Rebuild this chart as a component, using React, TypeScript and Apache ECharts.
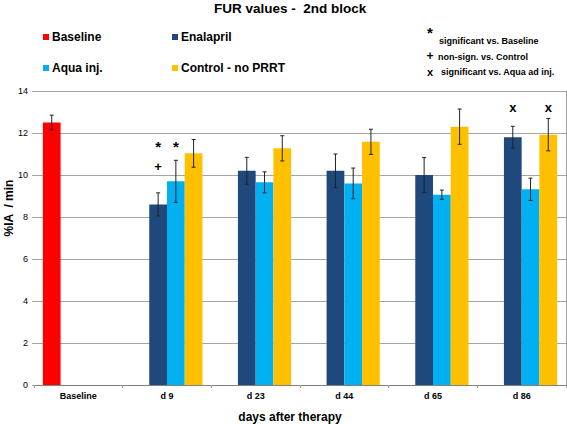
import React, { useEffect, useRef } from "react";
import * as echarts from "echarts";

const categories = ["Baseline", "d 9", "d 23", "d 44", "d 65", "d 86"];
const seriesNames = ["Baseline", "Enalapril", "Aqua inj.", "Control - no PRRT"];
const seriesColors = ["#FF0000", "#1F497D", "#00B0F0", "#FFC000"];

const baselineMean = [12.5, null, null, null, null, null];
const baselineErr = [0.35, null, null, null, null, null];
const enalaprilMean = [null, 8.6, 10.2, 10.2, 10.0, 11.8];
const enalaprilErr = [null, 0.55, 0.64, 0.8, 0.83, 0.52];
const aquaMean = [null, 9.7, 9.65, 9.6, 9.06, 9.32];
const aquaErr = [null, 1.0, 0.5, 0.73, 0.22, 0.53];
const controlMean = [null, 11.03, 11.27, 11.58, 12.3, 11.92];
const controlErr = [null, 0.66, 0.6, 0.6, 0.84, 0.77];

// significance markers: [categoryIndex, seriesSlot, yValue, symbol]
const markerCats = [1, 1, 1, 5, 5];
const markerSlots = [1, 2, 1, 1, 3];
const markerValues = [11.35, 11.35, 10.4, 13.2, 13.2];
const markerSymbols = ["*", "*", "+", "x", "x"];

const yTicks = { min: 0, max: 14, interval: 2 };

const FONT = "'Liberation Sans', Arial, sans-serif";

export default function App() {
  const ref = useRef<HTMLDivElement>(null);

  useEffect(() => {
    if (!ref.current) return;
    const chart = echarts.init(ref.current, undefined, { renderer: "svg" });

    const means = [baselineMean, enalaprilMean, aquaMean, controlMean];
    const errs = [baselineErr, enalaprilErr, aquaErr, controlErr];

    const errData: number[][] = [];
    means.forEach((arr, s) => {
      arr.forEach((v, c) => {
        const e = errs[s][c];
        if (v != null && e != null) errData.push([c, v - e, v + e, s]);
      });
    });

    const markData = markerCats.map((c, i) => [c, markerValues[i], markerSlots[i]]);

    const barSeries = means.map((arr, s) => ({
      name: seriesNames[s],
      type: "bar",
      data: arr,
      barGap: "0%",
      barCategoryGap: "20%",
      itemStyle: { color: seriesColors[s] },
      z: 2,
    }));

    const legendPos = [
      { left: 43, top: 31 },
      { left: 172, top: 31 },
      { left: 43, top: 62 },
      { left: 172, top: 62 },
    ];

    chart.setOption({
      animation: false,
      textStyle: { fontFamily: FONT },
      title: {
        text: "FUR values -  2nd block",
        left: 214,
        top: 1,
        padding: 0,
        textStyle: { fontFamily: FONT, fontSize: 13.5, fontWeight: "bold", color: "#000" },
      },
      legend: seriesNames.map((n, i) => ({
        data: [n],
        left: legendPos[i].left,
        top: legendPos[i].top,
        icon: "rect",
        itemWidth: 6,
        itemHeight: 6,
        padding: 0,
        selectedMode: false,
        textStyle: { fontFamily: FONT, fontSize: 12, fontWeight: "bold", color: "#000", padding: [0, 0, 0, -2] },
      })),
      grid: { left: 34, right: 1, top: 91, bottom: 39, containLabel: false },
      xAxis: [
        {
          type: "category",
          data: categories,
          axisLine: { lineStyle: { color: "#A0A0A0" } },
          axisTick: { show: true, length: 3, lineStyle: { color: "#A0A0A0" } },
          axisLabel: { fontFamily: FONT, fontSize: 9, fontWeight: "bold", color: "#000", margin: 6 },
        },
        {
          type: "category",
          data: categories,
          position: "top",
          axisLine: { show: true, lineStyle: { color: "#808080" } },
          axisTick: { show: false },
          axisLabel: { show: false },
        },
      ],
      yAxis: [
        {
          type: "value",
          min: yTicks.min,
          max: yTicks.max,
          interval: yTicks.interval,
          axisLine: { show: false },
          axisTick: { show: true, length: 2, lineStyle: { color: "#A0A0A0" } },
          axisLabel: { fontFamily: FONT, fontSize: 9, color: "#000", margin: 6 },
          splitLine: { lineStyle: { color: "#A6A6A6" } },
        },
        {
          type: "value",
          min: yTicks.min,
          max: yTicks.max,
          interval: yTicks.interval,
          position: "right",
          axisLine: { show: true, lineStyle: { color: "#A0A0A0" } },
          axisTick: { show: false },
          axisLabel: { show: false },
          splitLine: { show: false },
        },
      ],
      series: [
        ...barSeries,
        {
          type: "custom",
          name: "err",
          data: errData,
          z: 5,
          renderItem: (params: any, api: any) => {
            const c = api.value(0);
            const lo = api.value(1);
            const hi = api.value(2);
            const slot = api.value(3);
            const bandW = api.size([1, 0])[0];
            const barW = (bandW * 0.8) / 4;
            const x = api.coord([c, lo])[0] + (slot - 1.5) * barW;
            const y1 = api.coord([c, lo])[1];
            const y2 = api.coord([c, hi])[1];
            const cap = 2;
            const st = { stroke: "#222", lineWidth: 1 };
            return {
              type: "group",
              children: [
                { type: "line", shape: { x1: x, y1, x2: x, y2 }, style: st },
                { type: "line", shape: { x1: x - cap, y1, x2: x + cap, y2: y1 }, style: st },
                { type: "line", shape: { x1: x - cap, y1: y2, x2: x + cap, y2 }, style: st },
              ],
            };
          },
        },
        {
          type: "custom",
          name: "marks",
          data: markData,
          z: 6,
          renderItem: (params: any, api: any) => {
            const c = api.value(0);
            const v = api.value(1);
            const slot = api.value(2);
            const bandW = api.size([1, 0])[0];
            const barW = (bandW * 0.8) / 4;
            const p = api.coord([c, v]);
            const sym = markerSymbols[params.dataIndex];
            return {
              type: "text",
              x: p[0] + (slot - 1.5) * barW,
              y: p[1],
              style: {
                text: sym,
                fontFamily: FONT,
                fontSize: sym === "*" ? 15 : 13,
                fontWeight: "bold",
                fill: "#000",
                align: "center",
                verticalAlign: "middle",
              },
            };
          },
        },
      ],
      graphic: [
        {
          type: "text",
          x: 9,
          y: 208,
          rotation: Math.PI / 2,
          style: { text: "%IA  / min", fontFamily: FONT, fontSize: 12, fontWeight: "bold", fill: "#000", align: "center", verticalAlign: "middle" },
        },
        {
          type: "text",
          x: 290,
          y: 417,
          style: { text: "days after therapy", fontFamily: FONT, fontSize: 12, fontWeight: "bold", fill: "#000", align: "center", verticalAlign: "middle" },
        },
        {
          type: "text",
          x: 430,
          y: 32,
          style: { text: "*", fontFamily: FONT, fontSize: 15, fontWeight: "bold", fill: "#000", align: "center", verticalAlign: "middle" },
        },
        {
          type: "text",
          x: 439,
          y: 41,
          style: { text: "significant vs. Baseline", fontFamily: FONT, fontSize: 9, fontWeight: "bold", fill: "#000", align: "left", verticalAlign: "middle" },
        },
        {
          type: "text",
          x: 430,
          y: 56,
          style: { text: "+", fontFamily: FONT, fontSize: 12, fontWeight: "bold", fill: "#000", align: "center", verticalAlign: "middle" },
        },
        {
          type: "text",
          x: 438,
          y: 56.5,
          style: { text: "non-sign. vs. Control", fontFamily: FONT, fontSize: 9, fontWeight: "bold", fill: "#000", align: "left", verticalAlign: "middle" },
        },
        {
          type: "text",
          x: 430,
          y: 72,
          style: { text: "x", fontFamily: FONT, fontSize: 11, fontWeight: "bold", fill: "#000", align: "center", verticalAlign: "middle" },
        },
        {
          type: "text",
          x: 441,
          y: 72,
          style: { text: "significant vs. Aqua ad inj.", fontFamily: FONT, fontSize: 9, fontWeight: "bold", fill: "#000", align: "left", verticalAlign: "middle" },
        },
      ],
    });

    return () => chart.dispose();
  }, []);

  return <div ref={ref} style={{ width: 567, height: 424, position: "absolute", left: 0, top: 0 }} />;
}
